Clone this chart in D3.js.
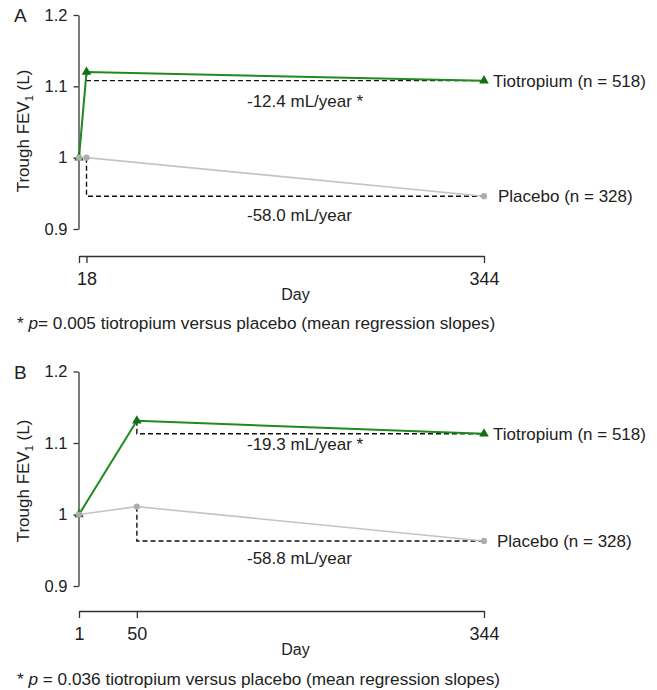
<!DOCTYPE html>
<html lang="en">
<head>
  <meta charset="UTF-8" />
  <title>Trough FEV1 over time</title>
  <script src="https://d3js.org/d3.v7.min.js"></script>
  <style>
    body { margin: 0; background: #fff; }
    svg { display: block; font-family: "Liberation Sans", Arial, sans-serif; }
    .axis path, .axis line { stroke: #333; stroke-width: 1.3; }
    .axis text { fill: #222; font-family: "Liberation Sans", Arial, sans-serif; }
  </style>
</head>
<body>
  <svg id="chart" width="657" height="690"></svg>

  <script>
    // panel A
    const daysA = [1, 18, 344];
    const tioA = [1.0, 1.12, 1.108];
    const placA = [1.0, 1.0, 0.946];
    const xTicksA = [1, 18, 344];
    const xLabelsA = ["", "18", "344"];
    const slopesA = ["-12.4 mL/year *", "-58.0 mL/year"];
    const noteA = "= 0.005 tiotropium versus placebo (mean regression slopes)";

    // panel B
    const daysB = [1, 50, 344];
    const tioB = [1.0, 1.131, 1.113];
    const placB = [1.0, 1.011, 0.963];
    const xTicksB = [1, 50, 344];
    const xLabelsB = ["1", "50", "344"];
    const slopesB = ["-19.3 mL/year *", "-58.8 mL/year"];
    const noteB = " = 0.036 tiotropium versus placebo (mean regression slopes)";

    const yTicks = [0.9, 1.0, 1.1, 1.2];
    const seriesNames = ["Tiotropium (n = 518)", "Placebo (n = 328)"];

    const svg = d3.select("#chart");
    const green = "#1f8a1f", greenDark = "#12700f";
    const grey = "#c4c4c4", greyDark = "#adadad";

    function drawPanel(p) {
      const g = svg.append("g");

      // A's x axis is not linear in the source (day 18 sits close to day 1)
      const x = d3.scaleLinear().domain(p.xDomain).range(p.xRange);
      const y = d3.scaleLinear().domain([0.9, 1.2]).range([p.yBottom, p.yTop]);

      g.append("text")
        .attr("x", 14).attr("y", p.yTop + 7)
        .style("font-size", "19px").attr("fill", "#222")
        .text(p.letter);

      g.append("g").attr("class", "axis")
        .attr("transform", `translate(${x(1) - 0.5},0)`)
        .call(d3.axisLeft(y).tickValues(yTicks).tickFormat(d3.format("~g"))
          .tickSize(5).tickSizeOuter(0).tickPadding(6))
        .call(a => a.selectAll("text").style("font-size", "16.5px"));

      g.append("g").attr("class", "axis")
        .attr("transform", `translate(0,${p.xAxisY})`)
        .call(d3.axisBottom(x).tickValues(p.xTicks)
          .tickFormat((d, i) => p.xLabels[i])
          .tickSize(7).tickSizeOuter(0).tickPadding(9))
        .call(a => a.selectAll("text").style("font-size", "18px"));

      g.append("text")
        .attr("x", (x(1) + x(344)) / 2 + 14).attr("y", p.xAxisY + 44)
        .attr("text-anchor", "middle")
        .style("font-size", "16px").attr("fill", "#222")
        .text("Day");

      const yt = g.append("text")
        .attr("transform", `translate(29,${p.titleY}) rotate(-90)`)
        .attr("text-anchor", "middle")
        .style("font-size", "17px").attr("fill", "#222");
      yt.append("tspan").text("Trough FEV");
      yt.append("tspan").attr("dy", 4).style("font-size", "11px").text("1");
      yt.append("tspan").attr("dy", -4).text(" (L)");

      const series = [
        { vals: p.tio, color: green, mark: greenDark, w: 2, sym: d3.symbolTriangle, size: 40 },
        { vals: p.plac, color: grey, mark: greyDark, w: 1.6, sym: d3.symbolCircle, size: 30 }
      ];

      // regression drop guides
      series.forEach((s, k) => {
        const pts = [
          [x(p.days[1]), y(s.vals[1])],
          [x(p.days[1]), y(s.vals[2])],
          [x(p.days[2]), y(s.vals[2])]
        ];
        g.append("path")
          .attr("d", d3.line()(pts))
          .attr("fill", "none").attr("stroke", "#111")
          .attr("stroke-width", 1.4).attr("stroke-dasharray", "5,3");

        g.append("text")
          .attr("x", 247).attr("y", y(s.vals[2]) + p.slopeDy[k])
          .style("font-size", "17px").attr("fill", "#222")
          .text(p.slopes[k]);
      });

      const line = d3.line().x((d, i) => x(p.days[i])).y(d => y(d));
      series.forEach((s, k) => {
        g.append("path")
          .attr("d", line(s.vals))
          .attr("fill", "none").attr("stroke", s.color)
          .attr("stroke-width", s.w);
      });
      series.forEach((s, k) => {
        g.selectAll(null).data(s.vals).enter().append("path")
          .attr("d", d3.symbol().type(s.sym).size(s.size))
          .attr("transform", (d, i) => `translate(${x(p.days[i])},${y(d)})`)
          .attr("fill", s.mark);

        g.append("text")
          .attr("x", x(p.days[2]) + p.nameDx[k]).attr("y", y(s.vals[2]))
          .attr("dy", "0.35em")
          .style("font-size", "17px").attr("fill", "#222")
          .text(seriesNames[k]);
      });

      const note = g.append("text")
        .attr("x", 17).attr("y", p.noteY)
        .style("font-size", "17.2px").attr("fill", "#222");
      note.append("tspan").text("* ");
      note.append("tspan").style("font-style", "italic").text("p");
      note.append("tspan").text(p.note);
    }

    drawPanel({
      letter: "A", days: daysA, tio: tioA, plac: placA,
      xDomain: [1, 18, 344], xRange: [79, 86.5, 484],
      xTicks: xTicksA, xLabels: xLabelsA, slopes: slopesA, note: noteA,
      yTop: 15, yBottom: 229, xAxisY: 256, titleY: 131, noteY: 329,
      slopeDy: [26, 25], nameDx: [9, 14]
    });

    drawPanel({
      letter: "B", days: daysB, tio: tioB, plac: placB,
      xDomain: [1, 344], xRange: [79, 484],
      xTicks: xTicksB, xLabels: xLabelsB, slopes: slopesB, note: noteB,
      yTop: 371.5, yBottom: 586, xAxisY: 611, titleY: 481, noteY: 685,
      slopeDy: [16, 23], nameDx: [9, 13]
    });
  </script>
</body>
</html>
